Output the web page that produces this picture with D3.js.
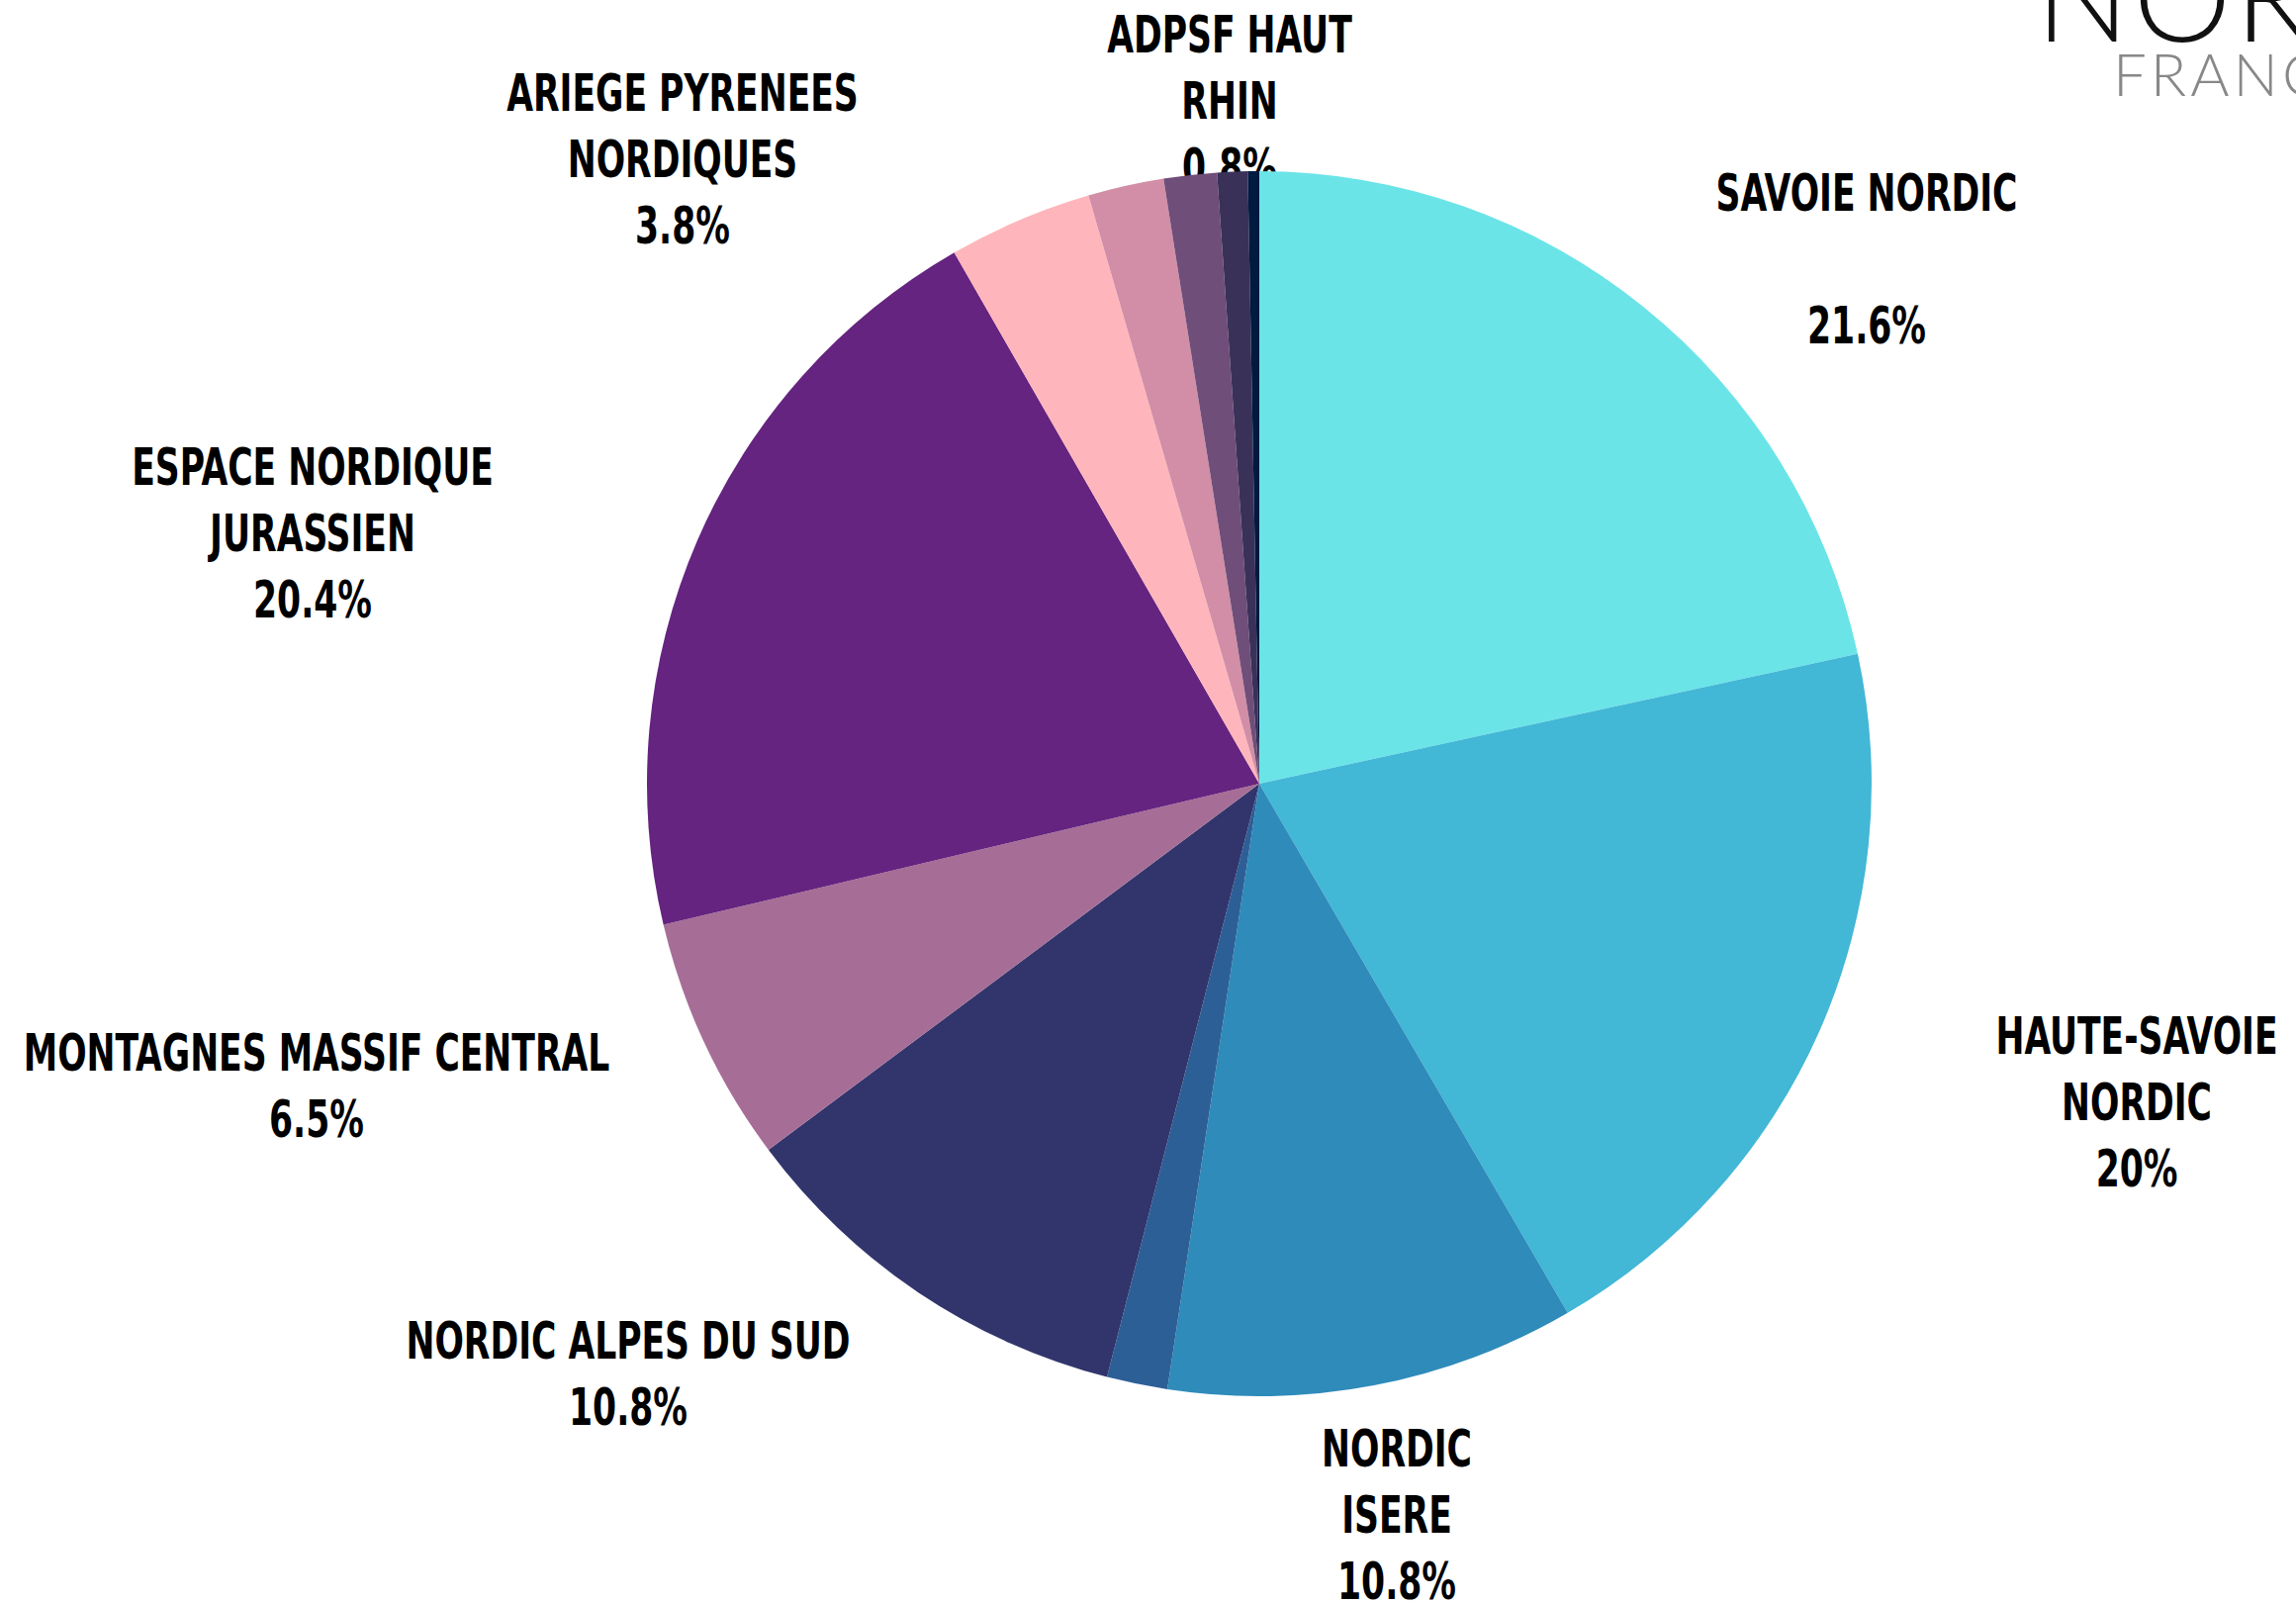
<!DOCTYPE html>
<html><head><meta charset="utf-8">
<script src="https://cdn.jsdelivr.net/npm/d3@7"></script>
<style>html,body{margin:0;padding:0;background:#fff;overflow:hidden} svg{display:block}</style>
</head><body>
<svg id="c" width="2321" height="1621"></svg>
<script>
// ---- data ----
const categories = ["SAVOIE NORDIC","HAUTE-SAVOIE NORDIC","NORDIC ISERE","","NORDIC ALPES DU SUD","MONTAGNES MASSIF CENTRAL","ESPACE NORDIQUE JURASSIEN","ARIEGE PYRENEES NORDIQUES","","","ADPSF HAUT RHIN",""];
const values = [21.6, 20, 10.8, 1.6, 10.8, 6.5, 20.4, 3.8, 2.0, 1.4, 0.8, 0.3];
const colors = ["#6be4e8","#42b7d6","#2e8bba","#2d5f97","#31356b","#a66e96","#65247f","#feb6bc","#d28ea6","#6f4e79","#3a3159","#001a40"];

// ---- layout ----
const W = 2321, H = 1621;
const cx = 1273, cy = 792, R = 619;
const lineStep = 67;
const refWidth = 305; // reference width of the "SAVOIE NORDIC" line
// label anchor (center x, first baseline) and word index after which to break
const labelLayout = [
  {x:1887, y:213, brk:null, gap:true},
  {x:2160, y:1065, brk:1},
  {x:1412, y:1482, brk:1},
  null,
  {x:635, y:1373, brk:null},
  {x:320, y:1082, brk:null},
  {x:316, y:490, brk:2},
  {x:690, y:112, brk:2},
  null, null,
  {x:1243, y:53, brk:2},
  null
];

const svg = d3.select("#c");
svg.append("rect").attr("width",W).attr("height",H).attr("fill","#fff");

// measure horizontal compression to match the reference's condensed face
const fontFam = "'DejaVu Sans',sans-serif";
const probe = svg.append("text").attr("font-family",fontFam).attr("font-weight","bold")
  .attr("font-size",51).style("font-stretch","condensed").text("SAVOIE NORDIC");
const sx = refWidth / probe.node().getComputedTextLength();
probe.remove();

// labels (drawn under the pie)
const lg = svg.append("g")
  .attr("font-family",fontFam).style("font-stretch","condensed")
  .attr("font-weight","bold").attr("font-size",51).attr("fill","#000")
  .attr("text-anchor","middle");
categories.forEach((name,i)=>{
  const L = labelLayout[i];
  if(!L || !name) return;
  const words = name.split(" ");
  let lines = L.brk ? [words.slice(0,L.brk).join(" "), words.slice(L.brk).join(" ")] : [name];
  if(L.gap) lines.push("");
  lines.push(values[i] + "%");
  const t = lg.append("text").attr("transform",`translate(${L.x},0) scale(${sx},1)`);
  lines.forEach((s,k)=>{
    t.append("tspan").attr("x",0).attr("y",L.y + k*lineStep).text(s);
  });
});

// pie
const pie = d3.pie().sort(null).value(d=>d);
const arc = d3.arc().innerRadius(0).outerRadius(R);
svg.append("g").attr("transform",`translate(${cx},${cy})`)
  .selectAll("path").data(pie(values)).join("path")
  .attr("d",arc).attr("fill",(d,i)=>colors[i]);

// logo
const logo = svg.append("g").attr("font-family","Lato, 'Open Sans', sans-serif").attr("font-weight",300);
logo.append("text").attr("x",2058).attr("y",42).attr("font-size",125).attr("fill","#111").attr("letter-spacing",4).text("NORDIC");
logo.append("text").attr("x",2136).attr("y",97).attr("font-size",60).attr("fill","#888").attr("letter-spacing",4).text("FRANCE");
</script>
</body></html>
